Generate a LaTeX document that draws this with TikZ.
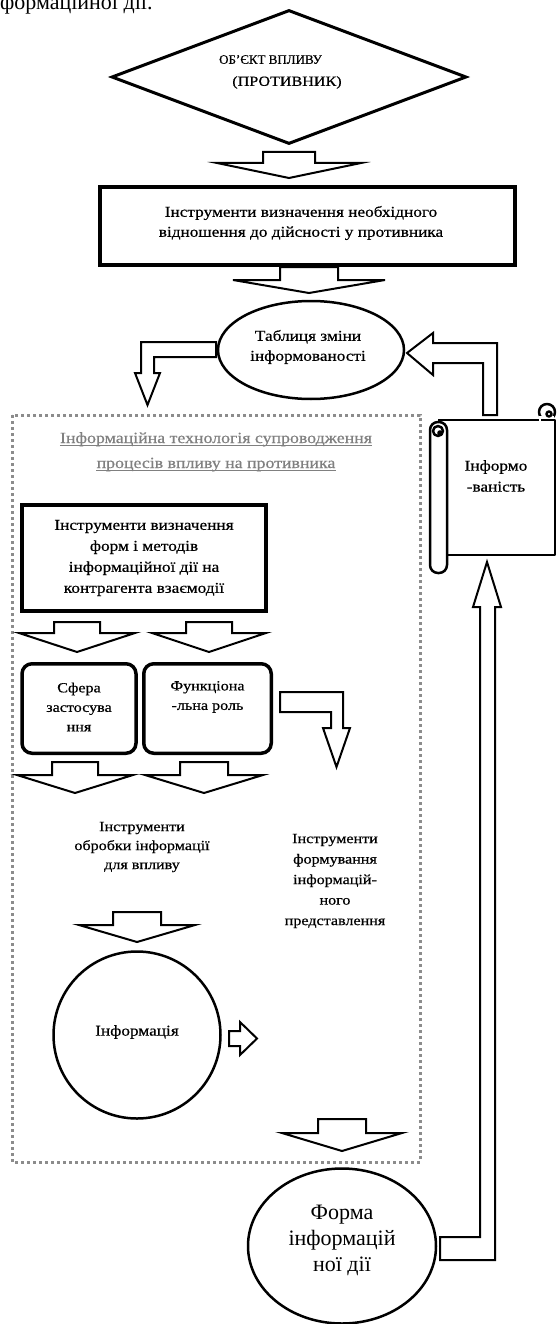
\documentclass[tikz,border=0pt]{standalone}
\usepackage{fontspec}
\setmainfont{Liberation Serif}
\newfontfamily\wf[FakeStretch=1.15,FakeBold=0.6]{Liberation Serif}
\newfontfamily\wc[FakeBold=0.6]{Liberation Serif}
\usetikzlibrary{shapes.geometric}
\newcommand\dblk[6]{%
  \draw[blk] (#1-#5,#2) -- (#1+#5,#2) -- (#1+#5,#3) -- (#1+#6,#3) -- (#1,#4)
    -- (#1-#6,#3) -- (#1-#5,#3) -- cycle;}
\begin{document}
\begin{tikzpicture}[x=1pt,y=-1pt,
  blk/.style={draw=black, line width=2pt, fill=white, line join=miter},
  lbl/.style={font=\wf\fontsize{15}{20}\selectfont, align=center, inner sep=0pt},
  thickbox/.style={draw, rectangle, line width=4pt, inner sep=0pt},
  rbox/.style={draw, rectangle, rounded corners=10pt, line width=3.5pt, inner sep=0pt},
  ell/.style={draw, ellipse, line width=2.5pt, inner sep=0pt},
  dotframe/.style={draw=black!45, line width=3pt, dash pattern=on 3pt off 3pt},
  scr/.style={draw, line width=2.5pt, line join=round}]
\useasboundingbox (0,0) rectangle (557,1324);
\clip (0,0) rectangle (557,1324);

% clipped heading line at the top
\node[anchor=base west, inner sep=0pt, font=\fontsize{22}{26}\selectfont] (toptext) at (-18,10) {інформаційної дії.};

% diamond
\node[diamond, draw, line width=3pt, minimum width=355pt, minimum height=134pt, inner sep=0pt] (obj) at (289,77) {};
\node[font=\wc\fontsize{13}{22}\selectfont, align=center, inner sep=0pt] (objt) at (287,72) {ОБ’ЄКТ ВПЛИВУ\hspace*{33pt}\\{\wf\fontsize{14}{22}\selectfont (ПРОТИВНИК)}};
\dblk{289}{152}{163}{178}{26}{72}

% top rectangle
\node[thickbox, minimum width=415pt, minimum height=78pt] (r1) at (307.5,226) {};
\node[lbl] (r1t) at (301,223) {Інструменти визначення необхідного\\відношення до дійсності у противника};
\dblk{309}{267}{280}{293}{29}{76}

% bent arrows around the table ellipse
\draw[blk] (216,342) -- (141,342) -- (141,373) -- (135,373) -- (147.5,405) -- (160,373)
  -- (154,373) -- (154,357) -- (216,357) -- cycle;
\draw[blk] (483,415) -- (483,363) -- (433,363) -- (433,375) -- (407,353) -- (433,333)
  -- (433,343) -- (497,343) -- (497,415) -- cycle;

\node[ell, minimum width=186pt, minimum height=98pt, fill=white] (tab) at (311,350) {};
\node[lbl] (tabt) at (308,347) {Таблиця зміни\\інформованості};

% dotted frame
\draw[dotframe] (12,415) rectangle (420,1162);
\node[lbl, font=\wf\fontsize{15.5}{20}\selectfont, text=black!50, anchor=base] (tt1) at (216,443) {Інформаційна технологія супроводження};
\node[lbl, font=\wf\fontsize{15.5}{20}\selectfont, text=black!50, anchor=base] (tt2) at (216,468) {процесів впливу на противника};
\draw[black!50, line width=0.8pt] ([yshift=-2pt]tt1.base west) -- ([yshift=-2pt]tt1.base east);
\draw[black!50, line width=0.8pt] ([yshift=-2pt]tt2.base west) -- ([yshift=-2pt]tt2.base east);

% forms and methods box
\node[thickbox, minimum width=244pt, minimum height=106pt] (r2) at (144,558) {};
\node[lbl, font=\wf\fontsize{15}{21}\selectfont] (r2t) at (144,558) {Інструменти визначення\\форм і методів\\інформаційної дії на\\контрагента взаємодії};
\dblk{77}{622}{633}{652}{23}{58}
\dblk{209}{622}{633}{652}{23}{57}

% rounded boxes
\node[rbox, minimum width=114pt, minimum height=89.5pt] (rr1) at (79,708.5) {};
\node[lbl, font=\wf\fontsize{14}{19.5}\selectfont] (rr1t) at (79,707) {Сфера\\застосува\\ння};
\node[rbox, minimum width=127.5pt, minimum height=89.5pt] (rr2) at (207.5,708.5) {};
\node[lbl, font=\wf\fontsize{14}{19.5}\selectfont] (rr2t) at (207.5,697) {Функціона\\-льна роль};

\draw[blk] (280,692) -- (343,692) -- (343,728) -- (350,728) -- (336.5,767) -- (323,728)
  -- (331,728) -- (331,712) -- (280,712) -- cycle;
\dblk{75}{762}{775}{793}{23}{58}
\dblk{204}{762}{775}{793}{24}{59}

% tool texts
\node[lbl, font=\wf\fontsize{14}{19}\selectfont] (proc) at (142,847) {Інструменти\\обробки інформації\\для впливу};
\node[lbl, font=\wf\fontsize{14}{20.5}\selectfont] (form) at (335,881) {Інструменти\\формування\\інформацій-\\ного\\представлення};

\dblk{137}{912}{925}{942}{24}{58}
\node[draw, circle, line width=2.5pt, minimum size=167pt, inner sep=0pt] (inf) at (137,1035) {};
\node[lbl] (inft) at (137,1032) {Інформація};
\draw[blk] (229,1031) -- (240,1031) -- (240,1022) -- (257,1038.5) -- (240,1055) -- (240,1046)
  -- (229,1046) -- cycle;

\dblk{342}{1119}{1133}{1151}{24}{60}

% long arrow from the form ellipse up to the scroll
\draw[blk] (440,1237) -- (480,1237) -- (480,607) -- (473,607) -- (487,562) -- (501,607)
  -- (495,607) -- (495,1260) -- (440,1260) -- cycle;
\node[ell, minimum width=188pt, minimum height=155pt, fill=white] (fid) at (342,1246) {};
\node[align=center, inner sep=0pt, font=\fontsize{22}{26}\selectfont] (fidt) at (342,1240) {Форма\\інформацій\\ної дії};

% scroll
\draw[scr, fill=white] (438,420) -- (547,420) -- (555,420) -- (555,555) -- (447,555);
\draw[scr, fill=white] (547,412) circle (8pt);
\fill[white] (539,416) rectangle (554,424);
\draw[scr] (541,420) -- (555,420);
\draw[scr] (549,414) circle (2.5pt);
\draw[scr, fill=white, rounded corners=8pt] (430,422) rectangle (447,573);
\draw[scr] (438,431) circle (5pt);
\draw[scr] (440,433) circle (1.8pt);
\node[lbl, font=\wf\fontsize{15}{21}\selectfont] (scroll) at (496,476) {Інформо\\-ваність};
\end{tikzpicture}
\end{document}
